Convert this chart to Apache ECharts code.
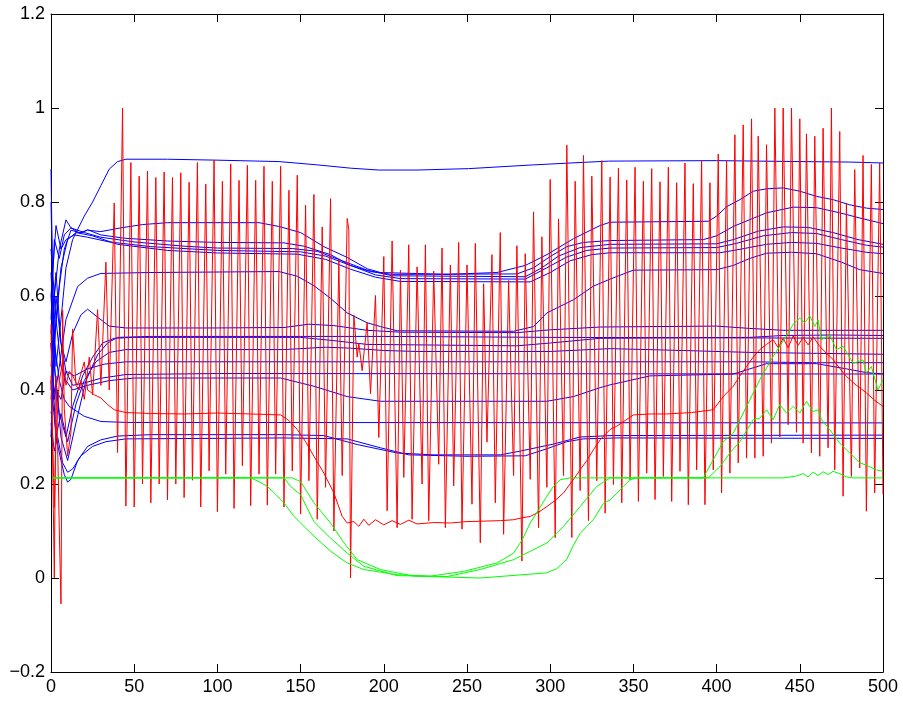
<!DOCTYPE html>
<html>
<head>
<meta charset="utf-8">
<script src="https://cdn.jsdelivr.net/npm/echarts@6/dist/echarts.min.js"></script>
<style>
html,body{margin:0;padding:0;background:#fff;}
#chart{width:903px;height:705px;}
</style>
</head>
<body>
<div id="chart"></div>
<script>
// ---- axis ticks ----
const xTicks = [0, 50, 100, 150, 200, 250, 300, 350, 400, 450, 500];
const yTicks = [-0.2, 0, 0.2, 0.4, 0.6, 0.8, 1.0, 1.2];

// ---- blue series ([x, y]) ----
const blue01 = [[0,0.87],[1,0.62],[3,0.45],[6,0.55],[9,0.66],[13,0.72],[20,0.77],[25,0.80],[30,0.835],[35,0.87],[40,0.886],[45,0.891],[70,0.891],[100,0.889],[137,0.886],[160,0.879],[180,0.872],[197,0.868],[220,0.868],[251,0.871],[290,0.879],[335,0.887],[400,0.888],[450,0.886],[480,0.885],[500,0.883]];
const blue02 = [[0,0.4],[2,0.6],[5,0.7],[9,0.762],[12,0.745],[17,0.734],[22,0.74],[30,0.737],[42,0.745],[55,0.752],[70,0.756],[125,0.756],[137,0.748],[150,0.735],[164,0.705],[178,0.682],[190,0.658],[198,0.65],[238,0.646],[268,0.65],[285,0.665],[298,0.688],[314,0.722],[330,0.75],[336,0.757],[395,0.759],[400,0.77],[406,0.79],[414,0.805],[422,0.823],[430,0.828],[440,0.83],[450,0.823],[460,0.812],[470,0.805],[480,0.794],[490,0.787],[500,0.784]];
const blue03 = [[0,0.65],[2,0.5],[5,0.62],[8,0.7],[12,0.74],[18,0.734],[22,0.741],[30,0.73],[44,0.723],[70,0.717],[100,0.714],[140,0.713],[152,0.706],[168,0.688],[180,0.665],[192,0.652],[205,0.646],[280,0.647],[290,0.66],[300,0.684],[310,0.705],[320,0.714],[336,0.718],[392,0.72],[400,0.728],[410,0.748],[430,0.777],[446,0.789],[460,0.788],[474,0.777],[486,0.766],[500,0.754]];
const blue04 = [[0,0.55],[2,0.72],[5,0.68],[8,0.73],[12,0.745],[20,0.735],[30,0.725],[50,0.715],[80,0.706],[100,0.702],[145,0.701],[160,0.695],[175,0.675],[190,0.655],[205,0.643],[285,0.641],[295,0.66],[305,0.685],[318,0.703],[336,0.71],[400,0.711],[410,0.72],[425,0.738],[440,0.747],[455,0.746],[470,0.735],[485,0.72],[500,0.71]];
const blue05 = [[0,0.6],[3,0.75],[6,0.7],[9,0.72],[14,0.73],[22,0.725],[35,0.715],[60,0.705],[100,0.697],[150,0.694],[165,0.685],[180,0.665],[195,0.645],[210,0.637],[285,0.636],[298,0.66],[310,0.683],[322,0.697],[336,0.702],[400,0.703],[412,0.712],[428,0.728],[445,0.735],[460,0.733],[475,0.72],[490,0.708],[500,0.704]];
const blue06 = [[0,0.7],[3,0.55],[6,0.66],[10,0.72],[15,0.735],[25,0.728],[40,0.71],[70,0.697],[100,0.6915],[148,0.689],[165,0.678],[180,0.657],[195,0.64],[210,0.631],[288,0.63],[300,0.65],[312,0.675],[325,0.688],[336,0.692],[402,0.692],[415,0.7],[430,0.71],[445,0.714],[460,0.712],[475,0.702],[490,0.693],[500,0.69]];
const blue07 = [[0,0.5],[2,0.38],[5,0.45],[9,0.55],[16,0.62],[22,0.638],[30,0.648],[60,0.65],[137,0.652],[148,0.642],[158,0.622],[168,0.595],[178,0.564],[190,0.543],[198,0.535],[208,0.526],[278,0.525],[290,0.535],[298,0.564],[314,0.592],[326,0.621],[336,0.636],[350,0.655],[400,0.656],[410,0.665],[420,0.68],[430,0.691],[445,0.693],[460,0.69],[475,0.672],[486,0.656],[500,0.648]];
const blue08 = [[0,0.45],[3,0.6],[6,0.5],[9,0.46],[13,0.52],[18,0.56],[22,0.572],[28,0.555],[35,0.536],[45,0.532],[100,0.532],[140,0.533],[155,0.54],[170,0.537],[190,0.527],[210,0.523],[280,0.522],[300,0.528],[330,0.534],[400,0.536],[420,0.531],[440,0.527],[470,0.527],[500,0.527]];
const blue09 = [[0,0.35],[3,0.42],[6,0.3],[10,0.25],[15,0.33],[21,0.42],[28,0.475],[34,0.5],[40,0.512],[60,0.514],[150,0.514],[200,0.514],[300,0.512],[400,0.511],[500,0.51]];
const blue10 = [[0,0.8],[2,0.45],[5,0.35],[9,0.3],[13,0.365],[19,0.43],[25,0.47],[31,0.5],[38,0.51],[50,0.512],[150,0.512],[170,0.505],[190,0.497],[280,0.494],[300,0.5],[330,0.51],[420,0.512],[440,0.516],[470,0.517],[500,0.516]];
const blue11 = [[0,0.5],[3,0.3],[6,0.35],[10,0.29],[15,0.37],[20,0.42],[27,0.46],[35,0.48],[45,0.486],[140,0.486],[165,0.491],[180,0.489],[200,0.484],[220,0.482],[300,0.482],[336,0.488],[380,0.484],[420,0.48],[460,0.478],[500,0.476]];
const blue12 = [[0,0.6],[3,0.4],[6,0.38],[9,0.44],[14,0.43],[22,0.445],[32,0.455],[45,0.46],[300,0.46],[420,0.46],[460,0.458],[500,0.458]];
const blue13 = [[0,0.52],[3,0.65],[6,0.5],[9,0.44],[13,0.41],[20,0.415],[30,0.425],[45,0.433],[100,0.435],[500,0.434]];
const blue14 = [[0,0.38],[3,0.55],[6,0.45],[9,0.42],[13,0.4],[22,0.41],[35,0.42],[50,0.4255],[138,0.4255],[158,0.408],[178,0.386],[198,0.376],[298,0.376],[314,0.386],[330,0.405],[336,0.411],[360,0.43],[410,0.434],[420,0.445],[430,0.456],[460,0.456],[478,0.445],[490,0.437],[500,0.434]];
const blue15 = [[0,0.3],[2,0.5],[5,0.42],[8,0.38],[11,0.365],[20,0.344],[30,0.333],[45,0.331],[500,0.33]];
const blue16 = [[0,0.42],[3,0.3],[6,0.25],[8,0.22],[10,0.204],[12,0.21],[16,0.25],[22,0.28],[30,0.294],[40,0.302],[60,0.305],[140,0.305],[164,0.303],[184,0.284],[208,0.266],[230,0.262],[270,0.262],[282,0.27],[302,0.285],[318,0.3],[336,0.303],[500,0.304]];
const blue17 = [[0,0.33],[2,0.27],[4,0.3],[7,0.245],[10,0.225],[13,0.232],[18,0.26],[25,0.28],[33,0.29],[45,0.296],[140,0.298],[178,0.296],[198,0.277],[215,0.262],[250,0.259],[285,0.26],[298,0.275],[310,0.29],[320,0.296],[340,0.298],[500,0.297]];

// ---- red series ----
const redSpikes = [
[0,0.54],[1,0.25],[2,0.0],[3,0.43],[4,0.28],[5,0.1],[6,-0.055],[7,0.57],[8,0.36],[10,0.26],[12,0.31],[13,0.53],[15,0.41],[17,0.40],[18,0.42],[20,0.38],[23,0.47],[25,0.39],[28,0.571],[30,0.41],[33,0.672],[35,0.40],[38,0.798],[40,0.267],
[43,1.0],[45,0.153],[48,0.884],[50,0.151],[53,0.855],[55,0.2],[58,0.866],[60,0.16],[63,0.852],[65,0.2],[68,0.864],[70,0.166],[73,0.852],[75,0.2],[78,0.862],[80,0.171],[83,0.842],[85,0.208],[88,0.884],[90,0.151],[93,0.838],[95,0.228],[98,0.889],[100,0.141],[103,0.844],[105,0.221],[108,0.881],[110,0.148],[113,0.846],[115,0.239],[118,0.878],[120,0.154],[123,0.846],[125,0.221],[128,0.876],[130,0.155],[133,0.844],[135,0.221],[138,0.876],[140,0.151],[143,0.825],[145,0.228],[148,0.857],[150,0.136],[153,0.793],[155,0.207],[158,0.816],[160,0.125],[163,0.747],[165,0.193],[168,0.807],[170,0.1],[173,0.677],[175,0.218],[178,0.765],[179,0.74],[180,0.0],
[182,0.559],[184,0.47],[185,0.5],[187,0.441],[190,0.544],[192,0.392],[195,0.601],[197,0.299],[200,0.684],[202,0.143],[205,0.717],[208,0.107],[210,0.655],[212,0.214],[215,0.709],[217,0.125],[220,0.662],[223,0.2],[225,0.709],[227,0.122],[230,0.653],[233,0.242],[235,0.702],[237,0.107],[240,0.666],[242,0.196],[245,0.714],[247,0.104],[250,0.666],[253,0.157],[255,0.712],[258,0.075],[260,0.626],[262,0.289],[265,0.688],[267,0.16],[270,0.735],[272,0.093],[275,0.633],[278,0.218],[280,0.707],[283,0.036],[285,0.69],[288,0.21],[290,0.779],[293,0.107],[295,0.726],[298,0.193],[300,0.848],[303,0.086],[305,0.764],[308,0.218],[310,0.921],[313,0.086],[315,0.844],[318,0.186],[320,0.899],[323,0.122],[325,0.855],[328,0.207],
[331,0.888],[333,0.138],[336,0.853],[338,0.199],[341,0.872],[343,0.16],[346,0.847],[348,0.209],[351,0.874],[353,0.163],[356,0.844],[358,0.223],[361,0.871],[363,0.167],[366,0.843],[368,0.216],[371,0.874],[373,0.163],[376,0.841],[378,0.227],[381,0.883],[383,0.156],[386,0.839],[388,0.23],[391,0.889],[393,0.156],[396,0.841],[398,0.23],
[401,0.902],[403,0.181],[406,0.888],[408,0.223],[411,0.943],[413,0.245],[416,0.964],[418,0.255],[421,0.977],[423,0.255],[425,0.94],[428,0.259],[430,0.922],[433,0.287],[435,1.0],[438,0.30],[440,1.0],[443,0.326],[445,1.0],[448,0.31],[450,0.977],[452,0.287],[454,0.945],[457,0.266],[459,0.94],[462,0.259],[464,0.957],[467,0.277],[469,1.0],[471,0.23],[474,0.95],[476,0.174],[478,0.798],[481,0.216],[483,0.869],[486,0.234],[488,0.899],[490,0.142],[493,0.88],[495,0.181],[498,0.883],[500,0.178]
];
const redSmooth = [[0,0.43],[1,0.3],[2,0.15],[3,0.3],[5,0.42],[7,0.46],[9,0.41],[11,0.44],[13,0.43],[16,0.41],[20,0.46],[22,0.4],[26,0.39],[30,0.383],[34,0.369],[38,0.358],[45,0.352],[60,0.35],[80,0.349],[100,0.351],[120,0.349],[138,0.347],[143,0.335],[148,0.316],[153,0.29],[158,0.259],[164,0.223],[170,0.181],[175,0.131],[178,0.117],[182,0.12],[185,0.11],[188,0.125],[191,0.112],[195,0.124],[200,0.113],[205,0.122],[210,0.114],[215,0.123],[220,0.115],[230,0.118],[240,0.117],[250,0.12],[260,0.121],[270,0.122],[278,0.124],[283,0.128],[288,0.131],[293,0.14],[298,0.152],[303,0.165],[308,0.181],[313,0.205],[318,0.23],[322,0.25],[326,0.273],[330,0.294],[336,0.316],[340,0.323],[345,0.335],[350,0.347],[360,0.349],[370,0.349],[385,0.352],[398,0.358],[404,0.386],[410,0.408],[414,0.43],[418,0.45],[422,0.47],[426,0.486],[430,0.497],[434,0.507],[437,0.49],[440,0.51],[443,0.49],[446,0.515],[449,0.495],[452,0.512],[455,0.496],[458,0.513],[462,0.493],[466,0.478],[470,0.465],[474,0.446],[478,0.429],[484,0.41],[490,0.394],[495,0.378],[500,0.365]];

// ---- green series ----
const green1 = [[1,0.213],[120,0.213],[125,0.205],[130,0.195],[135,0.178],[140,0.16],[146,0.131],[150,0.117],[158,0.089],[168,0.057],[178,0.032],[188,0.018],[208,0.007],[228,0.004],[248,0.014],[268,0.032],[278,0.053],[283,0.08],[288,0.117],[293,0.145],[298,0.174],[302,0.195],[306,0.209],[312,0.213],[392,0.213],[398,0.252],[404,0.29],[410,0.308],[418,0.365],[426,0.422],[434,0.4715],[442,0.515],[446,0.54],[450,0.553],[453,0.543],[456,0.558],[459,0.535],[461,0.549],[463,0.507],[468,0.517],[472,0.486],[476,0.493],[482,0.457],[488,0.464],[490,0.436],[493,0.45],[497,0.4],[500,0.422]];
const green2 = [[1,0.213],[140,0.213],[144,0.195],[150,0.177],[158,0.12],[168,0.085],[178,0.053],[188,0.025],[208,0.005],[238,0.003],[258,0.018],[278,0.039],[298,0.0745],[308,0.11],[318,0.152],[328,0.195],[336,0.213],[395,0.213],[402,0.237],[408,0.266],[414,0.29],[422,0.337],[426,0.34],[430,0.358],[434,0.337],[438,0.369],[442,0.351],[446,0.365],[450,0.351],[454,0.376],[458,0.354],[461,0.358],[463,0.337],[468,0.3155],[474,0.287],[478,0.273],[482,0.259],[486,0.245],[490,0.24],[496,0.23],[500,0.227]];
const green3 = [[1,0.213],[145,0.213],[150,0.205],[158,0.16],[168,0.117],[176,0.075],[184,0.039],[198,0.018],[218,0.004],[258,0.0],[298,0.011],[304,0.02],[310,0.04],[314,0.07],[318,0.095],[322,0.11],[326,0.124],[332,0.159],[336,0.166],[340,0.18],[344,0.195],[348,0.209],[352,0.213],[440,0.213],[448,0.217],[452,0.222],[455,0.215],[458,0.225],[461,0.218],[464,0.226],[467,0.22],[470,0.227],[474,0.222],[478,0.215],[482,0.213],[500,0.213]];

const blueLines = [blue01,blue02,blue03,blue04,blue05,blue06,blue07,blue08,blue09,blue10,blue11,blue12,blue13,blue14,blue15,blue16,blue17];
const redLines = [redSpikes, redSmooth];
const greenLines = [green1, green2, green3];

const FONT = '"Liberation Sans", Arial, Helvetica, sans-serif';
function yFmt(v){
  const r = Math.round(v*10)/10;
  if (r === 0) return '0';
  return (r < 0 ? '\u2212' : '') + String(Math.abs(r));
}
function mkLine(data, color){
  return {type:'line', data:data, xAxisIndex:0, yAxisIndex:0, showSymbol:false, symbol:'none',
    lineStyle:{color:color, width:1}, itemStyle:{color:color}, silent:true, animation:false, clip:true, z:2};
}
const series = [];
blueLines.forEach(d => series.push(mkLine(d, '#0000ff')));
redLines.forEach(d => series.push(mkLine(d, '#ff0000')));
greenLines.forEach(d => series.push(mkLine(d, '#00ff00')));

const axisCommonX = {type:'value', min:xTicks[0], max:xTicks[xTicks.length-1], interval:xTicks[1]-xTicks[0],
  splitLine:{show:false}, axisLine:{show:true, onZero:false, lineStyle:{color:'#000', width:1}},
  axisTick:{show:true, inside:true, length:8, lineStyle:{color:'#000', width:1}}};
const axisCommonY = {type:'value', min:yTicks[0], max:yTicks[yTicks.length-1], interval:0.2,
  splitLine:{show:false}, axisLine:{show:true, onZero:false, lineStyle:{color:'#000', width:1}},
  axisTick:{show:true, inside:true, length:8, lineStyle:{color:'#000', width:1}}};

const chart = echarts.init(document.getElementById('chart'), null, {renderer:'canvas'});
chart.setOption({
  animation:false,
  backgroundColor:'#ffffff',
  grid:{left:51, right:20, top:14, bottom:33, containLabel:false},
  xAxis:[
    Object.assign({}, axisCommonX, {position:'bottom', axisLabel:{show:true, color:'#000', fontSize:18, fontFamily:FONT, margin:6, showMinLabel:true, showMaxLabel:true}}),
    Object.assign({}, axisCommonX, {position:'top', axisLabel:{show:false}})
  ],
  yAxis:[
    Object.assign({}, axisCommonY, {position:'left', axisLabel:{show:true, color:'#000', fontSize:18, fontFamily:FONT, margin:6, formatter:yFmt, showMinLabel:true, showMaxLabel:true}}),
    Object.assign({}, axisCommonY, {position:'right', axisLabel:{show:false}})
  ],
  series:series
});
</script>
</body>
</html>
